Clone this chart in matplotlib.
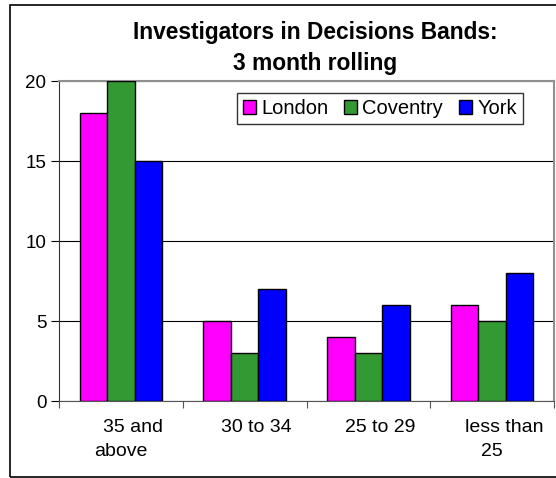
import numpy as np
import matplotlib
matplotlib.use('Agg')
import matplotlib.pyplot as plt
import matplotlib.transforms as mtransforms
from matplotlib.patches import Rectangle

plt.rcParams['font.family'] = ['Liberation Sans', 'DejaVu Sans']

# データ
categories = ['35 and\nabove', '30 to 34', '25 to 29', 'less than\n25']
london = [18, 5, 4, 6]
coventry = [20, 3, 3, 5]
york = [15, 7, 6, 8]
series_names = ['London', 'Coventry', 'York']
colors = ['#FF00FF', '#339933', '#0000FF']

fig = plt.figure(figsize=(5.56, 4.78), dpi=100)
ax = fig.add_axes([59 / 556, 1 - 401 / 478, 495 / 556, 320 / 478])

x = np.arange(len(categories))
width = 0.222
for i, (vals, name, c) in enumerate(zip([london, coventry, york], series_names, colors)):
    ax.bar(x + (i - 1) * width, vals, width, color=c, edgecolor='black', linewidth=1.0,
           label=name, zorder=3)

ax.set_xlim(-0.5, len(categories) - 0.5)
ax.set_ylim(0, 20)
ax.set_yticks([0, 5, 10, 15, 20])
ax.tick_params(axis='y', labelsize=13.5, length=6, direction='out', pad=3)

# カテゴリ境界に目盛り
ax.set_xticks(np.arange(len(categories) + 1) - 0.5)
ax.set_xticklabels([])
ax.tick_params(axis='x', which='major', length=5, direction='out', color='#555555')

# カテゴリラベル（Excel風に1行目は少し右寄せ）
xform = ax.get_xaxis_transform()
for xi, label in zip(x, categories):
    lines = label.split('\n')
    for j, line in enumerate(lines):
        dx = 12 if j == 0 else 0
        dy = -27 - 24 * j
        t = mtransforms.offset_copy(xform, fig=fig, x=dx, y=dy, units='dots')
        ax.text(xi, 0, line, transform=t, ha='center', va='center', fontsize=14)

ax.yaxis.grid(True, color='black', linewidth=0.8, zorder=0)
for s in ['top', 'right']:
    ax.spines[s].set_color('#909090')
    ax.spines[s].set_linewidth(1.5)
ax.spines['bottom'].set_color('#555555')
ax.spines['left'].set_color('#333333')

leg = ax.legend(loc='upper right', bbox_to_anchor=((523 - 59) / 495, (401 - 93) / 320), ncol=3,
                fontsize=14.5, frameon=True, fancybox=False, edgecolor='black',
                handlelength=0.65, handleheight=0.65, handletextpad=0.25,
                columnspacing=0.8, borderpad=0.3, borderaxespad=0)
leg.get_frame().set_linewidth(1.0)

fig.text(315 / 556, 1 - 48 / 478, 'Investigators in Decisions Bands:\n3 month rolling',
         ha='center', va='center', fontsize=16.4, fontweight='bold', linespacing=1.4)

# 外枠
fig.patches.append(Rectangle((9.5 / 556, 1.5 / 478), 1.2, (476.5 - 5) / 478,
                             transform=fig.transFigure,
                             fill=False, edgecolor='black', linewidth=1.2))

fig.savefig('out.png', dpi=100)
